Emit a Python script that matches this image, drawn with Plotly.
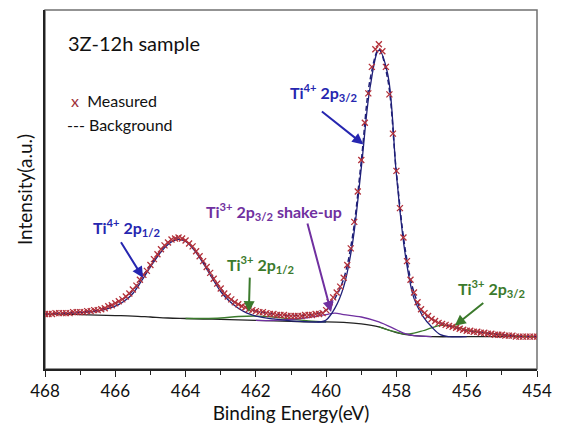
import numpy as np
import plotly.graph_objects as go

# ---- XPS Ti 2p spectrum of the 3Z-12h sample (intensity in arbitrary units) ----
# Measured points on a 0.1 eV grid from 468.0 eV down to 454.0 eV
energy_meas = np.round(np.linspace(468.0, 454.0, 141), 1)
intensity_meas = [
    56, 56, 56, 57, 57, 57, 57, 57, 58, 58,            # 468.0 - 467.1
    58, 58, 59, 59, 60, 60, 61, 62, 64, 65,            # 467.0 - 466.1
    67, 69, 71, 74, 77, 81, 85, 91, 96, 100,           # 466.0 - 465.1
    106, 112, 117, 122, 126, 129, 132, 133, 134, 133,  # 465.0 - 464.1
    131, 128, 125, 120, 115, 110, 104, 98, 92, 87,     # 464.0 - 463.1
    82, 77, 74, 71, 68, 66, 64, 63, 61, 60,            # 463.0 - 462.1
    59, 58, 58, 57, 56, 56, 55, 55, 55, 54,            # 462.0 - 461.1
    54, 54, 54, 54, 55, 55, 55, 56, 56, 57,            # 461.0 - 460.1
    60, 68, 73, 78, 84, 93, 106, 123, 150, 181,        # 460.0 - 459.1
    213, 251, 281, 308, 326, 331, 324, 308, 280, 240,  # 459.0 - 458.1
    202, 164, 134, 110, 91, 78, 68, 61, 57, 54,        # 458.0 - 457.1
    51, 49, 47, 46, 45, 44, 43, 42, 41, 40,            # 457.0 - 456.1
    39, 39, 38, 38, 37, 37, 36, 36, 35, 35,            # 456.0 - 455.1
    35, 34, 34, 34, 33, 33, 33, 33, 33, 33,            # 455.0 - 454.1
    33,                                                # 454.0
]
assert len(intensity_meas) == len(energy_meas)

# Shirley background
energy_bg = [468.0, 467.5, 467.0, 466.5, 466.0, 465.5, 465.0, 464.5, 464.0, 463.5,
             463.0, 462.5, 462.0, 461.5, 461.0, 460.5, 460.0, 459.5, 459.0, 458.5,
             458.0, 457.5, 457.0, 456.0, 455.0, 454.0]
intensity_bg = [56, 56, 55.5, 55, 54.5, 54, 53, 52, 51.5, 51,
                50.5, 50, 49.5, 49, 48.5, 48, 48, 47.5, 46, 43,
                37, 34, 33, 33, 33, 33]

# Fitted envelope
energy_env = [468.0, 467.75, 467.5, 467.25, 467.0, 466.75, 466.5, 466.25, 466.0, 465.75,
              465.5, 465.25, 465.0, 464.75, 464.5, 464.25, 464.0, 463.75, 463.5, 463.25,
              463.0, 462.75, 462.5, 462.25, 462.0, 461.75, 461.5, 461.25, 461.0, 460.75,
              460.5, 460.25, 460.0, 459.75, 459.5, 459.25, 459.0, 458.75, 458.5, 458.25,
              458.0, 457.75, 457.5, 457.25, 457.0, 456.75, 456.5, 456.25, 456.0, 455.5,
              455.0, 454.5, 454.0]
intensity_env = [56, 56.5, 57, 57.5, 58, 59, 60, 63, 67, 72,
                 80, 93, 106, 119, 129, 133.5, 131, 122, 110, 95,
                 82, 72, 66, 62, 59, 57.5, 56, 55, 54.5, 54.5,
                 55, 56.5, 60, 72, 92, 135, 212, 295, 326, 296,
                 200, 122, 78, 58, 51, 47, 44, 41.5, 39, 37,
                 35, 33.5, 33]

# Ti4+ 2p1/2 component (on background)
energy_ti4_12 = [467.5, 467.0, 466.5, 466.0, 465.75, 465.5, 465.25, 465.0, 464.75, 464.5,
                 464.25, 464.0, 463.75, 463.5, 463.25, 463.0, 462.75, 462.5, 462.25, 462.0,
                 461.5, 461.0, 460.5, 460.0]
intensity_ti4_12 = [56.5, 57.5, 59, 64, 69, 77, 90, 104, 117, 127,
                    132, 130, 121, 108, 93, 79, 69, 62, 57, 54,
                    51, 49, 48, 48]

# Ti3+ 2p1/2 component
energy_ti3_12 = [464.0, 463.5, 463.0, 462.5, 462.0, 461.5, 461.0, 460.5, 460.0]
intensity_ti3_12 = [51.5, 51.5, 52, 53.5, 54, 53, 51, 49, 48]

# Ti3+ 2p3/2 shake-up component
energy_shake = [462.0, 461.5, 461.0, 460.5, 460.0, 459.75, 459.5, 459.0, 458.5, 458.0,
                457.75, 457.5, 457.0]
intensity_shake = [49.5, 49.5, 50.5, 52.5, 55.5, 57, 55.5, 53, 48, 40,
                   36, 34, 33]

# Ti4+ 2p3/2 component
energy_ti4_32 = [460.25, 460.0, 459.75, 459.5, 459.25, 459.0, 458.75, 458.5, 458.25, 458.0,
                 457.75, 457.5, 457.25, 457.0, 456.75, 456.5, 456.0]
intensity_ti4_32 = [48, 50, 62, 84, 128, 205, 287, 325, 301, 198,
                    117, 72, 54, 43, 35, 33, 33]

# Ti3+ 2p3/2 component
energy_ti3_32 = [458.5, 458.0, 457.75, 457.5, 457.25, 457.0, 456.75, 456.5, 456.25, 456.0,
                 455.5, 455.0, 454.5, 454.0]
intensity_ti3_32 = [43, 37.5, 35.5, 36.5, 39, 42, 44.5, 44, 42.5, 40,
                    37, 35, 33.5, 33]

x_ticks = [468, 466, 464, 462, 460, 458, 456, 454]

BLUE = "#2626b0"
NAVY = "#1f1f78"
PURPLE = "#7030a0"
GREEN = "#3b7a2c"
RED = "#b3313a"
FONT = "Lato"

fig = go.Figure()

line_w = 1.3
fig.add_trace(go.Scatter(x=energy_bg, y=intensity_bg, mode="lines",
                         line=dict(color="#222222", width=line_w, shape="spline")))
fig.add_trace(go.Scatter(x=energy_ti3_12, y=intensity_ti3_12, mode="lines",
                         line=dict(color=GREEN, width=line_w, shape="spline")))
fig.add_trace(go.Scatter(x=energy_ti3_32, y=intensity_ti3_32, mode="lines",
                         line=dict(color=GREEN, width=line_w, shape="spline")))
fig.add_trace(go.Scatter(x=energy_shake, y=intensity_shake, mode="lines",
                         line=dict(color=PURPLE, width=line_w, shape="spline")))
fig.add_trace(go.Scatter(x=energy_ti4_12, y=intensity_ti4_12, mode="lines",
                         line=dict(color=NAVY, width=line_w, shape="spline")))
fig.add_trace(go.Scatter(x=energy_ti4_32, y=intensity_ti4_32, mode="lines",
                         line=dict(color=NAVY, width=line_w, shape="spline")))
fig.add_trace(go.Scatter(x=energy_env, y=intensity_env, mode="lines",
                         line=dict(color=NAVY, width=1.5, dash="5px,3px", shape="spline")))
fig.add_trace(go.Scatter(x=energy_meas, y=intensity_meas, mode="markers",
                         marker=dict(symbol="x-thin", size=6, color=RED,
                                     line=dict(color=RED, width=1.3))))

# plot area: left/bottom spans in pixels
L, R, T, B = 45, 547, 10, 376


def px(x):
    return (x - L) / (R - L)


def py(y):
    return (B - y) / (B - T)


def label(text, x, y, color, size=16, bold=True, anchor="center"):
    fig.add_annotation(x=px(x), y=py(y), xref="paper", yref="paper",
                       text=f"<b>{text}</b>" if bold else text, showarrow=False,
                       xanchor=anchor, yanchor="middle",
                       font=dict(family=FONT, size=size, color=color))


def arrow(tip_e, tip_i, ax, ay, color):
    fig.add_annotation(x=tip_e, y=tip_i, xref="x", yref="y", text="",
                       showarrow=True, arrowhead=2, arrowsize=1.1, arrowwidth=2,
                       arrowcolor=color, ax=ax, ay=ay, standoff=0)


label("3Z-12h sample", 66, 44, "#111111", size=20, bold=False, anchor="left")
label("<span style='color:#a0303a'>x</span>  Measured", 69, 102, "#111111",
      size=16, bold=False, anchor="left")
label("--- Background", 65, 127, "#111111", size=16, bold=False, anchor="left")

label("Ti<sup>4+</sup> 2p<sub>3/2</sub>", 329, 94, BLUE)
label("Ti<sup>4+</sup> 2p<sub>1/2</sub>", 128, 232, BLUE)
label("Ti<sup>3+</sup> 2p<sub>3/2</sub> shake-up", 279, 215, PURPLE)
label("Ti<sup>3+</sup> 2p<sub>1/2</sub>", 265, 269, GREEN)
label("Ti<sup>3+</sup> 2p<sub>3/2</sub>", 501, 294, GREEN)

arrow(458.94, 229, -43, -34, BLUE)
arrow(465.21, 93, -23, -37, BLUE)
arrow(462.20, 58, 1, -36, GREEN)
arrow(459.86, 58, -24, -90, PURPLE)
arrow(456.34, 44, 30, -24, GREEN)

# grey frame around the plot area
fig.add_shape(type="rect", xref="paper", yref="paper", x0=0, y0=0, x1=1, y1=1,
              line=dict(color="#707070", width=1.5), layer="below")

fig.update_layout(
    width=562, height=428,
    margin=dict(l=L, r=562 - R, t=T, b=428 - B),
    paper_bgcolor="white", plot_bgcolor="white",
    showlegend=False,
    font=dict(family=FONT, color="#111111"),
    xaxis=dict(range=[468, 454], tickvals=x_ticks, ticks="outside", ticklen=6,
               tickwidth=1.2, tickcolor="#222222", showline=True, linecolor="#222222",
               linewidth=1.5, showgrid=False, zeroline=False,
               minor=dict(dtick=1, tick0=454, ticks="outside", ticklen=4,
                          tickcolor="#222222", showgrid=False),
               tickfont=dict(size=17, family=FONT),
               title=dict(text="Binding Energy(eV)", font=dict(size=19, family=FONT),
                          standoff=4)),
    yaxis=dict(range=[0, 366], showticklabels=False, ticks="", showline=True,
               linecolor="#222222", linewidth=1.5, showgrid=False, zeroline=False,
               title=dict(text="Intensity(a.u.)", font=dict(size=19, family=FONT),
                          standoff=6)),
)

fig.write_html("out.html")
